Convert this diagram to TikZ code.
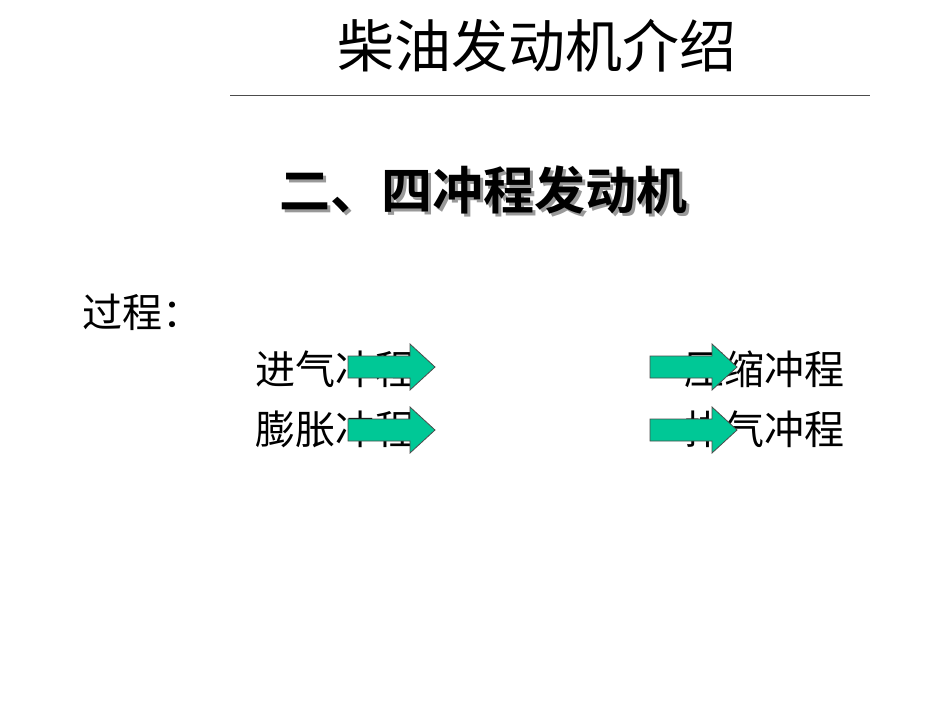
\documentclass[tikz,border=0pt]{standalone}
\usepackage{fontspec}
\newfontfamily\cjk{Noto Sans CJK SC}
\newfontfamily\cjkb{Noto Sans CJK SC Bold}
\definecolor{arr}{HTML}{00C896}
\tikzset{
 txt/.style={font=\cjk\fontsize{40}{40}\selectfont, inner sep=0pt},
 subtxt/.style={font=\cjkb\fontsize{51}{51}\selectfont, inner sep=0pt},
 bigarrow/.style={fill=arr, draw=black!70, line width=0.8pt}
}
\newcommand{\myarrow}[3]{% name, x, y
 \draw[bigarrow] (#2,#3-11) -- (#2+62,#3-11) -- (#2+62,#3-23) -- (#2+87,#3) -- (#2+62,#3+23) -- (#2+62,#3+11) -- (#2,#3+11) -- cycle;}
\begin{document}
\begin{tikzpicture}[x=1pt,y=-1pt]
\useasboundingbox[fill=white] (0,0) rectangle (950,713);
\node[font=\cjk\fontsize{57}{57}\selectfont, inner sep=0pt] (title) at (537,46) {柴油发动机介绍};
\draw[line width=0.8pt, black!70] (230,95) coordinate (l1) -- (870,95) coordinate (l2);
\node[subtxt, text=black!40] (subs) at (486,193) {二、四冲程发动机};
\node[subtxt] (sub) at (483,190) {二、四冲程发动机};
\node[txt, anchor=west] (proc) at (82,312) {过程：};
\node[txt, anchor=west] (a) at (255,369) {进气冲程};
\node[txt, anchor=west] (c) at (255,429) {膨胀冲程};
\node[txt, anchor=east] (b) at (845,369) {压缩冲程};
\node[txt, anchor=east] (d) at (845,429) {排气冲程};
\myarrow{ar1}{348}{367}
\myarrow{ar2}{348}{430}
\myarrow{ar3}{650}{367}
\myarrow{ar4}{650}{430}
\end{tikzpicture}
\end{document}
